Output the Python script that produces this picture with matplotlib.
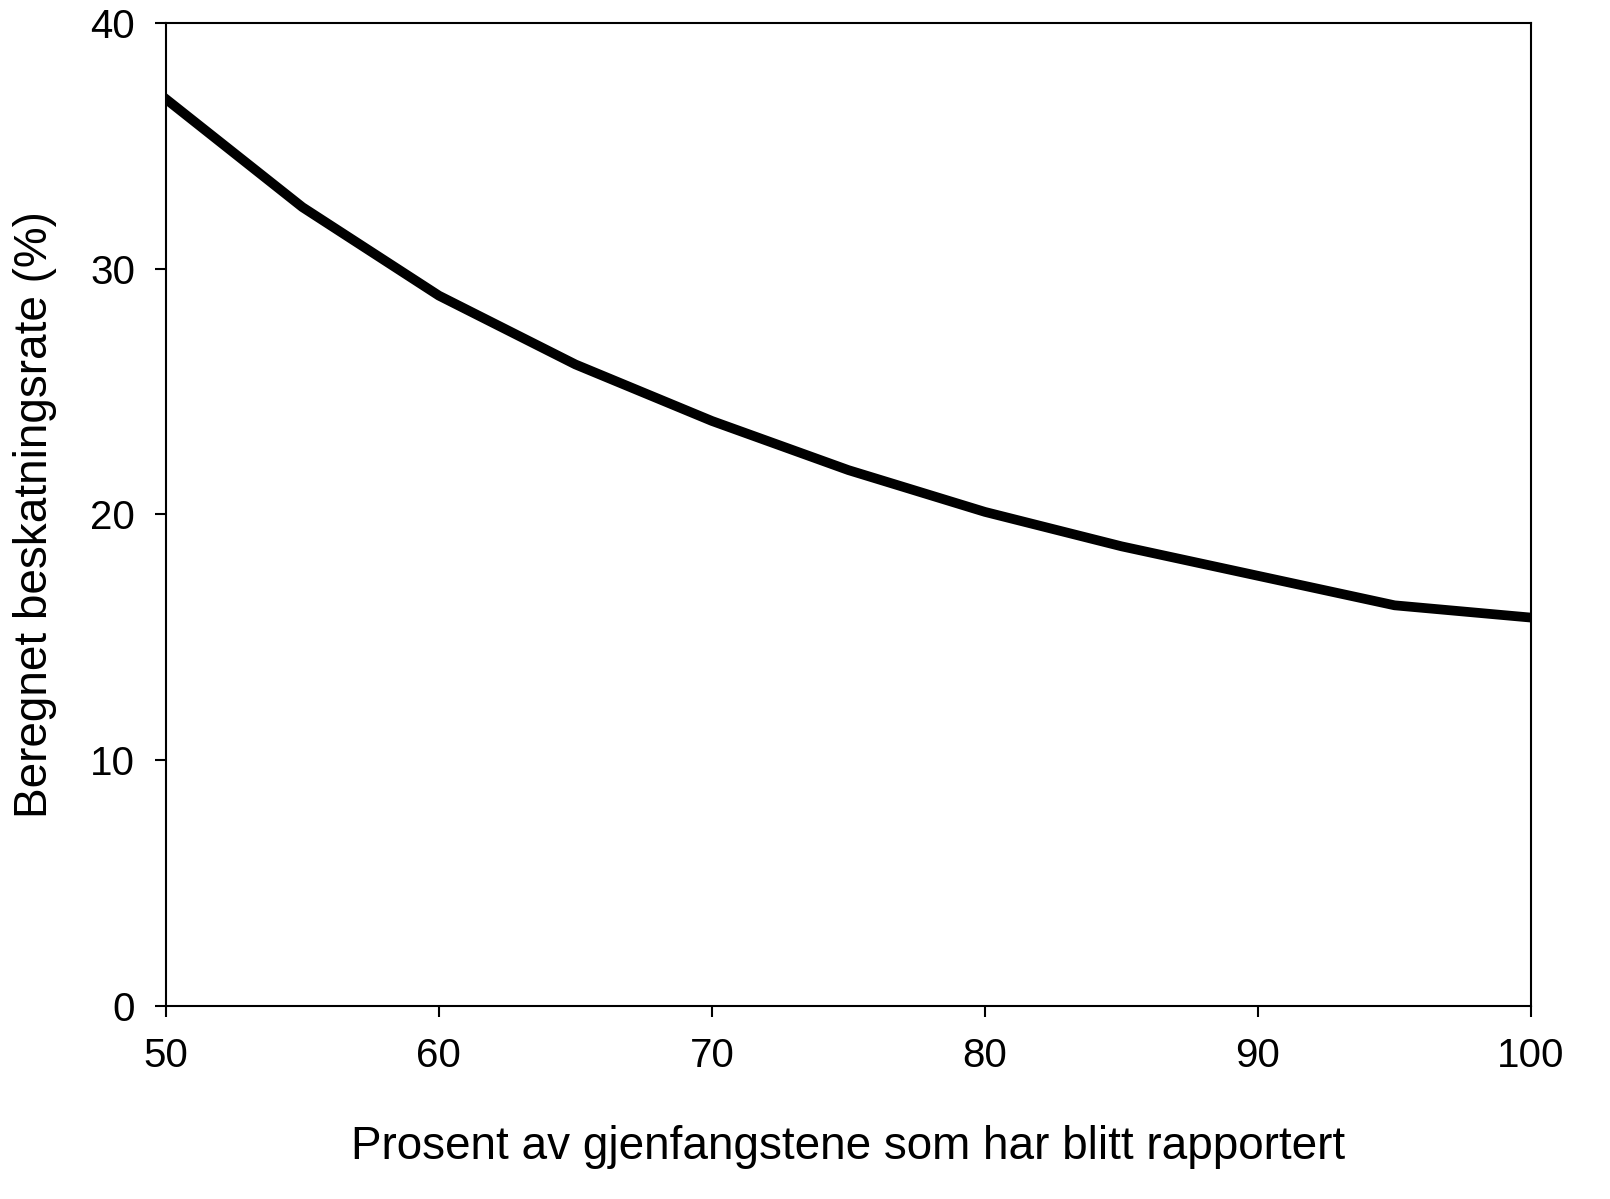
import matplotlib
matplotlib.use("Agg")
import matplotlib.pyplot as plt

plt.rcParams['font.family'] = ['Liberation Sans', 'DejaVu Sans']

reported = [50, 55, 60, 65, 70, 75, 80, 85, 90, 95, 100]
rate = [36.9, 32.5, 28.9, 26.1, 23.8, 21.8, 20.1, 18.7, 17.5, 16.3, 15.8]

fig = plt.figure(figsize=(16.1, 11.99), dpi=100)
ax = fig.add_axes([0.103, 0.161, 0.848, 0.82])
ax.plot(reported, rate, color='black', linewidth=7)
ax.set_xlim(50, 100)
ax.set_ylim(0, 40)
ax.set_xticks(range(50, 101, 10))
ax.set_yticks(range(0, 41, 10))
ax.tick_params(direction='out', length=8, width=1.5, labelsize=29, pad=14)
for s in ax.spines.values():
    s.set_linewidth(1.5)
ax.set_xlabel('Prosent av gjenfangstene som har blitt rapportert', fontsize=33, labelpad=36)
ax.set_ylabel('Beregnet beskatningsrate (%)', fontsize=33, labelpad=24)
fig.savefig('out.png', dpi=100)
